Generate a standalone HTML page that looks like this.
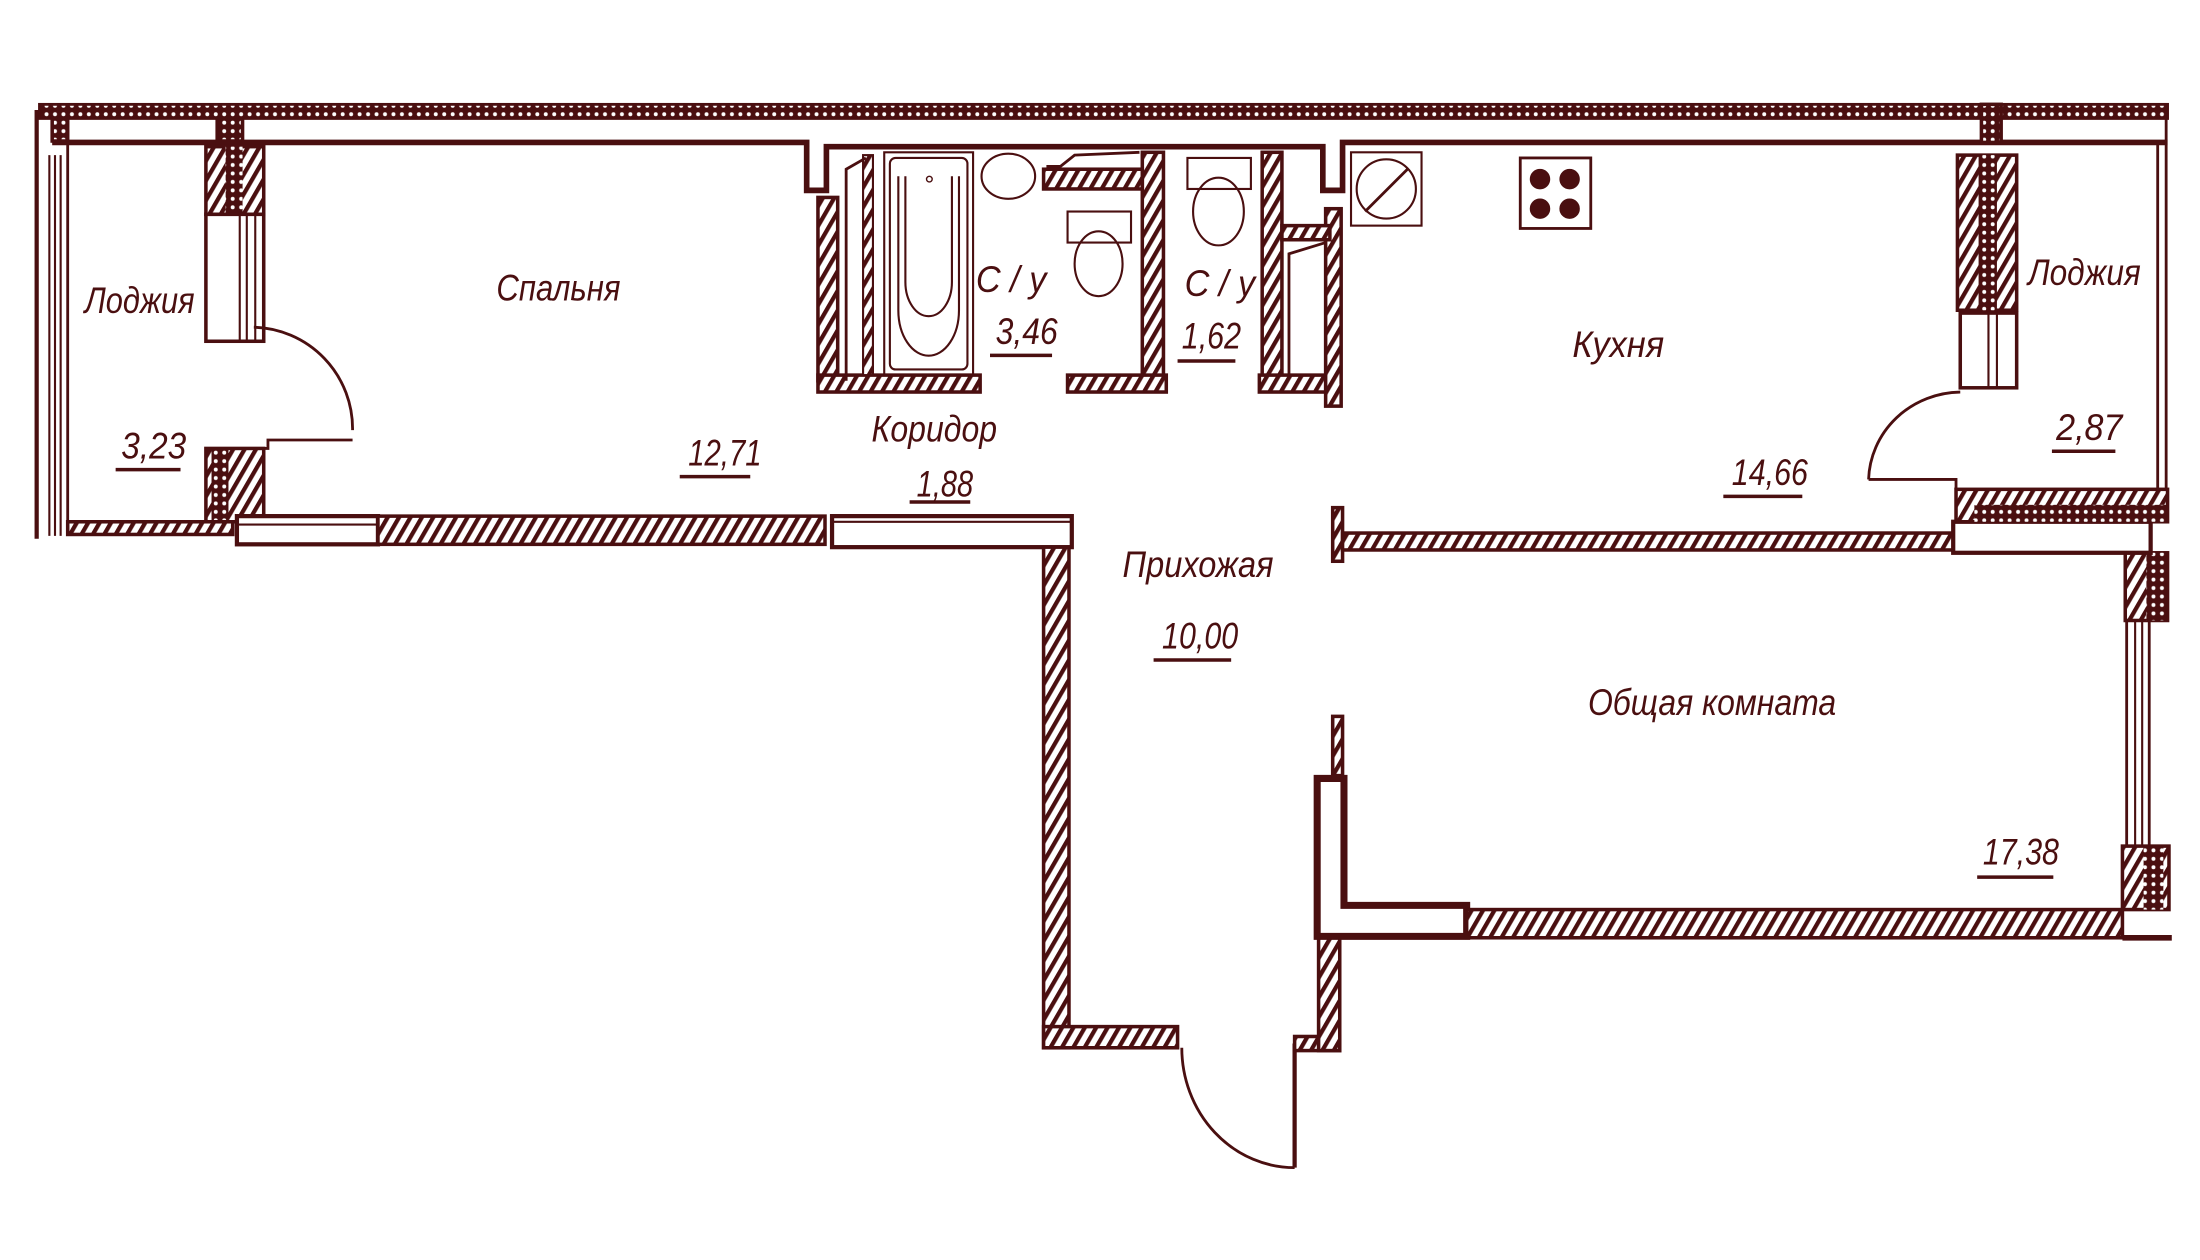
<!DOCTYPE html>
<html><head><meta charset="utf-8"><style>
html,body{margin:0;padding:0;background:#fff;}
svg{display:block}
text{font-family:"Liberation Sans","DejaVu Sans",sans-serif;font-style:italic;fill:#4a0f10;font-size:26px;}
</style></head><body>
<svg width="2200" height="1260" viewBox="0 0 1560 893.5" preserveAspectRatio="none" xmlns="http://www.w3.org/2000/svg">
<defs>
<pattern id="h" patternUnits="userSpaceOnUse" width="7" height="7" patternTransform="rotate(30)">
<rect width="7" height="7" fill="#fff"/><rect width="3" height="7" fill="#4a0f10"/></pattern>
<pattern id="d" patternUnits="userSpaceOnUse" width="6" height="6">
<rect width="6" height="6" fill="#4a0f10"/><circle cx="3" cy="3" r="1.4" fill="#fff"/></pattern>
</defs>
<g stroke="#4a0f10" fill="none" stroke-width="2.5">
<rect x="28" y="74" width="1509" height="10" fill="url(#d)" stroke-width="2"/>
<line x1="26" y1="78" x2="26" y2="382" stroke-width="3"/>
<line x1="35" y1="110" x2="35" y2="380" stroke-width="1.5"/>
<line x1="39" y1="110" x2="39" y2="380" stroke-width="1.5"/>
<line x1="43" y1="110" x2="43" y2="380" stroke-width="1.5"/>
<line x1="48" y1="84" x2="48" y2="380" stroke-width="2"/>
<rect x="37" y="84" width="11" height="16" fill="url(#d)"/>
<rect x="154" y="84" width="18" height="16" fill="url(#d)"/>
<polyline points="37,101 572,101 572,135 586,135 586,104 938,104 938,135 952,135 952,101 1537,101" stroke-width="4"/>
<rect x="1405" y="74" width="14" height="27" fill="url(#d)"/>
<rect x="146" y="104" width="41" height="48" fill="url(#h)"/>
<rect x="160" y="104" width="12" height="48" fill="url(#d)" stroke="none"/>
<rect x="146" y="152" width="41" height="90" fill="#fff"/>
<line x1="170" y1="152" x2="170" y2="242" stroke-width="1.5"/><line x1="175" y1="152" x2="175" y2="242" stroke-width="1.5"/><line x1="181" y1="152" x2="181" y2="242" stroke-width="1.5"/>
<path d="M180,232 A72,72 0 0 1 250,305" stroke-width="2"/>
<polyline points="250,312 190,312 190,318 180,318" stroke-width="2"/>
<rect x="146" y="318" width="41" height="52" fill="url(#h)"/>
<rect x="150" y="318" width="12" height="52" fill="url(#d)" stroke="none"/>
<rect x="48" y="370" width="117" height="9" fill="url(#h)"/>
<rect x="168" y="366" width="100" height="20" fill="#fff" stroke-width="3"/>
<line x1="168" y1="372" x2="268" y2="372" stroke-width="1.5"/>
<rect x="268" y="366" width="317" height="20" fill="url(#h)"/>
<rect x="590" y="366" width="170" height="22" fill="#fff" stroke-width="3"/>
<line x1="590" y1="370" x2="760" y2="370" stroke-width="1.5"/>
<rect x="740" y="388" width="18" height="355" fill="url(#h)"/>
<rect x="740" y="728" width="95" height="15" fill="url(#h)"/>
<path d="M838,743 A80,85 0 0 0 918,828" stroke-width="2"/>
<line x1="918" y1="740" x2="918" y2="828" stroke-width="3"/>
<rect x="918" y="735" width="32" height="10" fill="url(#h)"/>
<rect x="935" y="662" width="15" height="83" fill="url(#h)"/>
<rect x="945" y="508" width="7" height="42" fill="url(#h)"/>
<rect x="945" y="360" width="7" height="38" fill="url(#h)"/>
<path d="M934,552 H953 V642 H1040 V664 H934 Z" stroke-width="5" fill="#fff"/>
<rect x="1040" y="645" width="465" height="20" fill="url(#h)"/>
<rect x="1505" y="600" width="33" height="45" fill="url(#h)"/>
<rect x="1520" y="600" width="14" height="45" fill="url(#d)" stroke="none"/>
<line x1="1505" y1="665" x2="1540" y2="665" stroke-width="4"/>
<line x1="1508" y1="440" x2="1508" y2="600" stroke-width="2"/>
<line x1="1514" y1="440" x2="1514" y2="600" stroke-width="1.5"/>
<line x1="1519" y1="440" x2="1519" y2="600" stroke-width="1.5"/>
<line x1="1524" y1="440" x2="1524" y2="600" stroke-width="2"/>
<rect x="1507" y="392" width="30" height="48" fill="url(#h)"/>
<rect x="1522" y="392" width="14" height="48" fill="url(#d)" stroke="none"/>
<rect x="952" y="378" width="433" height="12" fill="url(#h)"/>
<rect x="1385" y="370" width="140" height="22" fill="#fff" stroke-width="3"/>
<rect x="1387" y="347" width="150" height="23" fill="url(#h)"/>
<rect x="1400" y="358" width="137" height="12" fill="url(#d)" stroke="none"/>
<rect x="1388" y="110" width="42" height="110" fill="url(#h)"/>
<rect x="1403" y="110" width="13" height="110" fill="url(#d)" stroke="none"/>
<rect x="1390" y="222" width="40" height="53" fill="#fff"/>
<line x1="1410" y1="222" x2="1410" y2="275" stroke-width="1.5"/><line x1="1416" y1="222" x2="1416" y2="275" stroke-width="1.5"/>
<path d="M1390,278 A66,64 0 0 0 1325,340" stroke-width="2"/>
<polyline points="1325,340 1387,340 1387,347" stroke-width="2"/>
<line x1="1530" y1="101" x2="1530" y2="348" stroke-width="2"/>
<line x1="1536" y1="74" x2="1536" y2="348" stroke-width="2"/>
<rect x="580" y="140" width="14" height="130" fill="url(#h)"/>
<rect x="580" y="266" width="115" height="12" fill="url(#h)"/>
<rect x="612" y="110" width="7" height="156" fill="url(#h)" stroke-width="1.5"/>
<polyline points="600,270 600,120 614,112" stroke-width="2"/>
<rect x="810" y="108" width="15" height="162" fill="url(#h)"/>
<rect x="757" y="266" width="70" height="12" fill="url(#h)"/>
<rect x="740" y="120" width="70" height="14" fill="url(#h)"/>
<polyline points="742,118 752,118 762,110 808,108" stroke-width="2"/>
<rect x="895" y="108" width="14" height="162" fill="url(#h)"/>
<rect x="893" y="266" width="50" height="12" fill="url(#h)"/>
<rect x="940" y="148" width="11" height="140" fill="url(#h)"/>
<rect x="909" y="160" width="34" height="10" fill="url(#h)"/>
<polyline points="914,266 914,180 940,172" stroke-width="2"/>
<rect x="627" y="108" width="63" height="158" stroke-width="1.5"/>
<rect x="631" y="112" width="55" height="150" rx="4" stroke-width="1.5"/>
<path d="M637,125 V220 A20,30 0 0 0 680,220 V125" stroke-width="1.5"/>
<path d="M642,125 V200 A15,22 0 0 0 675,200 V125" stroke-width="1.5"/>
<circle cx="659" cy="127" r="2" stroke-width="1"/>
<ellipse cx="715" cy="125" rx="19" ry="16" stroke-width="1.5"/>
<rect x="757" y="150" width="45" height="22" stroke-width="1.5"/>
<ellipse cx="779" cy="187" rx="17" ry="23" stroke-width="1.5"/>
<rect x="842" y="112" width="45" height="22" stroke-width="1.5"/>
<ellipse cx="864" cy="150" rx="18" ry="24" stroke-width="1.5"/>
<rect x="958" y="108" width="50" height="52" stroke-width="1.5"/>
<circle cx="983" cy="134" r="21" stroke-width="1.5"/>
<line x1="968" y1="150" x2="998" y2="120" stroke-width="2"/>
<rect x="1078" y="112" width="50" height="50" stroke-width="2"/>
<circle cx="1092" cy="127" r="6" fill="#4a0f10"/><circle cx="1113" cy="127" r="6" fill="#4a0f10"/>
<circle cx="1092" cy="148" r="6" fill="#4a0f10"/><circle cx="1113" cy="148" r="6" fill="#4a0f10"/>
<g stroke-width="2.5">
<line x1="82" y1="333" x2="128" y2="333"/><line x1="482" y1="338" x2="532" y2="338"/>
<line x1="702" y1="252" x2="746" y2="252"/><line x1="835" y1="256" x2="876" y2="256"/>
<line x1="645" y1="356" x2="688" y2="356"/><line x1="818" y1="468" x2="873" y2="468"/>
<line x1="1222" y1="352" x2="1278" y2="352"/><line x1="1455" y1="320" x2="1500" y2="320"/>
<line x1="1402" y1="622" x2="1456" y2="622"/>
</g>
</g>
<g>
<text x="60" y="222" textLength="78" lengthAdjust="spacingAndGlyphs">Лоджия</text>
<text x="352" y="213" textLength="88" lengthAdjust="spacingAndGlyphs">Спальня</text>
<text x="692" y="207" textLength="50" lengthAdjust="spacingAndGlyphs">С / у</text>
<text x="706" y="244" textLength="44" lengthAdjust="spacingAndGlyphs">3,46</text>
<text x="840" y="210" textLength="50" lengthAdjust="spacingAndGlyphs">С / у</text>
<text x="838" y="247" textLength="42" lengthAdjust="spacingAndGlyphs">1,62</text>
<text x="1115" y="253" textLength="65" lengthAdjust="spacingAndGlyphs">Кухня</text>
<text x="1438" y="202" textLength="80" lengthAdjust="spacingAndGlyphs">Лоджия</text>
<text x="86" y="325" textLength="46" lengthAdjust="spacingAndGlyphs">3,23</text>
<text x="488" y="330" textLength="52" lengthAdjust="spacingAndGlyphs">12,71</text>
<text x="618" y="313" textLength="89" lengthAdjust="spacingAndGlyphs">Коридор</text>
<text x="650" y="352" textLength="40" lengthAdjust="spacingAndGlyphs">1,88</text>
<text x="1228" y="344" textLength="54" lengthAdjust="spacingAndGlyphs">14,66</text>
<text x="1458" y="312" textLength="47" lengthAdjust="spacingAndGlyphs">2,87</text>
<text x="796" y="409" textLength="107" lengthAdjust="spacingAndGlyphs">Прихожая</text>
<text x="824" y="460" textLength="54" lengthAdjust="spacingAndGlyphs">10,00</text>
<text x="1126" y="507" textLength="176" lengthAdjust="spacingAndGlyphs">Общая комната</text>
<text x="1406" y="613" textLength="54" lengthAdjust="spacingAndGlyphs">17,38</text>
</g>
</svg>
</body></html>
